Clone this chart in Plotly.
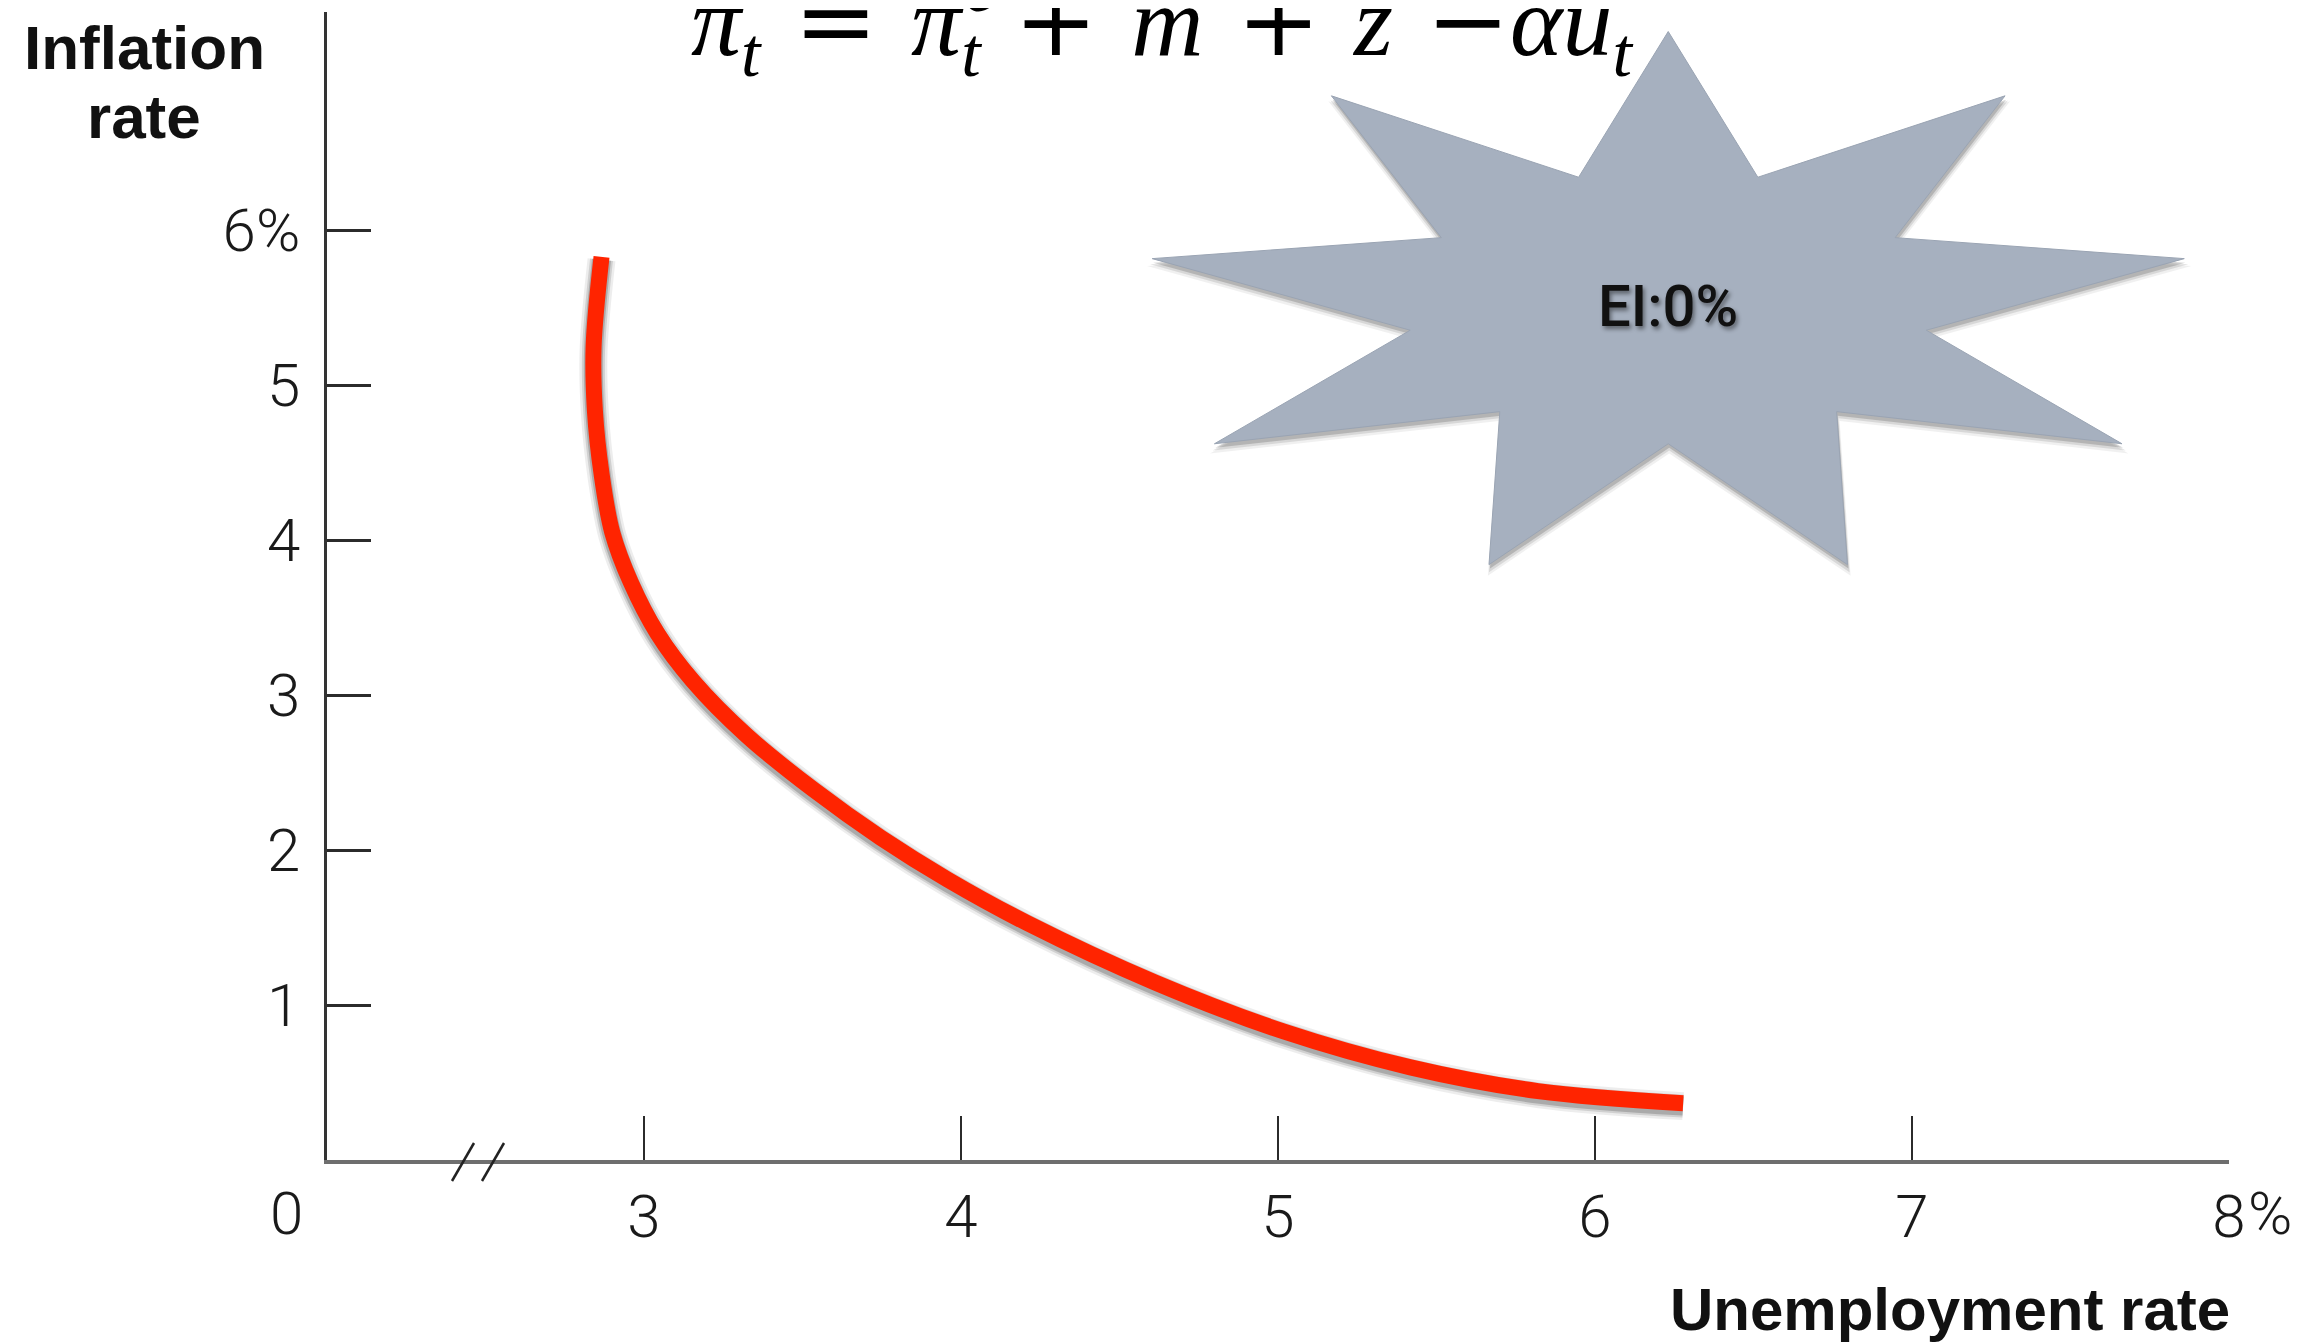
import numpy as np
import plotly.graph_objects as go

# ---------------- data ----------------
unemployment = [2.866, 2.841, 2.845, 2.866, 2.90, 2.958, 3.042, 3.155, 3.324, 3.535,
                3.747, 3.958, 4.211, 4.613, 5.016, 5.418, 5.82, 6.278]
inflation = [5.83, 5.25, 4.84, 4.43, 4.05, 3.73, 3.40, 3.09, 2.74, 2.39,
             2.08, 1.81, 1.527, 1.145, 0.831, 0.598, 0.445, 0.367]

x_tickvals = [3, 4, 5, 6, 7, 8]
x_ticktext = ["3", "4", "5", "6", "7", "8"]
y_tickvals = [1, 2, 3, 4, 5, 6]
y_ticktext = ["1", "2", "3", "4", "5", "6%"]

star_label = "EI:0%"
x_title = "Unemployment rate"
y_title_lines = ["Inflation", "rate"]

# ---------------- layout geometry (page pixels) ----------------
PAGE_W, PAGE_H = 2314, 1343
BODY = 8                                   # default body margin of the html page
W, H = PAGE_W - BODY, PAGE_H - BODY
L, R, T, B = 327, 2229, 12, 1160           # plot area in page pixels
X_RANGE = [2, 8]
Y_RANGE = [0, 7.41]
PXX = (X_RANGE[1] - X_RANGE[0]) / (R - L)   # data units per pixel
PXY = (Y_RANGE[1] - Y_RANGE[0]) / (B - T)


def px_to_paper_x(px):
    return (px - L) / (R - L)


def px_to_paper_y(py):
    return (B - py) / (B - T)


fig = go.Figure()

# ---------------- star decoration ----------------
STAR_CX, STAR_CY = 6.231, 5.51
STAR_RX, STAR_RY = 1.653, 1.774
STAR_INNER = 0.5
STAR_N = 9


def star(cx, cy, rx, ry, grow=1.0):
    xs, ys = [], []
    for k in range(2 * STAR_N + 1):
        ang = np.pi / 2 - k * np.pi / STAR_N
        r = 1.0 if k % 2 == 0 else STAR_INNER
        xs.append(cx + grow * r * rx * np.cos(ang))
        ys.append(cy + grow * r * ry * np.sin(ang))
    return xs, ys


for dy_px, grow, alpha in [(8, 1.012, 0.06), (6, 1.006, 0.10), (4, 1.0, 0.16)]:
    sx, sy = star(STAR_CX + 1 * PXX, STAR_CY - dy_px * PXY, STAR_RX, STAR_RY, grow)
    fig.add_trace(go.Scatter(x=sx, y=sy, mode="lines", fill="toself",
                             fillcolor=f"rgba(0,0,0,{alpha})",
                             line=dict(width=0, color="rgba(0,0,0,0)"),
                             hoverinfo="skip", showlegend=False))
sx, sy = star(STAR_CX, STAR_CY, STAR_RX, STAR_RY)
fig.add_trace(go.Scatter(x=sx, y=sy, mode="lines", fill="toself",
                         fillcolor="#A6B0BF", line=dict(width=1, color="#9aa4b3"),
                         hoverinfo="skip", showlegend=False))

# ---------------- curve (with soft shadow) ----------------
shadow_y = [v - 3 * PXY for v in inflation]
for wdt, alpha in [(28, 0.07), (23, 0.12), (19, 0.18)]:
    fig.add_trace(go.Scatter(x=unemployment, y=shadow_y, mode="lines",
                             line=dict(color=f"rgba(0,0,0,{alpha})", width=wdt,
                                       shape="spline", smoothing=1.0),
                             hoverinfo="skip", showlegend=False))
fig.add_trace(go.Scatter(x=unemployment, y=inflation, mode="lines",
                         line=dict(color="#FF2400", width=16, shape="spline", smoothing=1.0),
                         showlegend=False))

# ---------------- axes ----------------
tick_font = dict(family="Roboto, Liberation Sans, sans-serif", size=60, color="#1a1a1a", weight=300)
fig.update_xaxes(range=X_RANGE, showgrid=False, zeroline=False,
                 showline=True, linewidth=4, linecolor="#6e6e6e",
                 ticks="inside", ticklen=44, tickwidth=2, tickcolor="#2b2b2b",
                 tickvals=x_tickvals, ticktext=x_ticktext, tickfont=tick_font,
                 ticklabelstandoff=1)
fig.update_yaxes(range=Y_RANGE, showgrid=False, zeroline=False,
                 showline=True, linewidth=2.5, linecolor="#333333",
                 ticks="inside", ticklen=44, tickwidth=2.5, tickcolor="#2b2b2b",
                 tickvals=y_tickvals, ticktext=y_ticktext, tickfont=tick_font,
                 ticklabelstandoff=12)

# axis break marks "//"
BREAK_PX = [463, 493]
for cx in BREAK_PX:
    fig.add_shape(type="line", xref="paper", yref="paper",
                  x0=px_to_paper_x(cx - 11), y0=px_to_paper_y(B + 21),
                  x1=px_to_paper_x(cx + 11), y1=px_to_paper_y(B - 17),
                  line=dict(color="#222222", width=2.5))

# bars over m and z in the formula (cut by the top edge, as in the slide)
for x0, x1 in [(1162, 1196), (1360, 1394)]:
    fig.add_shape(type="line", xref="paper", yref="paper",
                  x0=px_to_paper_x(x0), y0=px_to_paper_y(3),
                  x1=px_to_paper_x(x1), y1=px_to_paper_y(3),
                  line=dict(color="#000000", width=5))

# ---------------- annotations ----------------
ann = []
ann.append(dict(text="0", xref="paper", yref="paper", x=px_to_paper_x(286), y=px_to_paper_y(1213),
                xanchor="center", yanchor="middle", showarrow=False, font=tick_font))
ann.append(dict(text="%", xref="paper", yref="paper", x=px_to_paper_x(2246), y=px_to_paper_y(1213),
                xanchor="left", yanchor="middle", showarrow=False, font=tick_font))
ytitle_font = dict(family="Liberation Sans, Arial, sans-serif", size=62, color="#111111", weight="bold")
xtitle_font = dict(family="Liberation Sans, Arial, sans-serif", size=60, color="#111111", weight="bold")
ann.append(dict(text=y_title_lines[0], xref="paper", yref="paper", x=px_to_paper_x(144),
                y=px_to_paper_y(48), xanchor="center", yanchor="middle", showarrow=False, font=ytitle_font))
ann.append(dict(text=y_title_lines[1], xref="paper", yref="paper", x=px_to_paper_x(144),
                y=px_to_paper_y(117), xanchor="center", yanchor="middle", showarrow=False, font=ytitle_font))
ann.append(dict(text=x_title, xref="paper", yref="paper", x=px_to_paper_x(2232),
                y=px_to_paper_y(1309), xanchor="right", yanchor="middle", showarrow=False, font=xtitle_font))
ann.append(dict(text=star_label, xref="x", yref="y", x=STAR_CX, y=STAR_CY,
                xanchor="center", yanchor="middle", showarrow=False,
                font=dict(family="Roboto, sans-serif", size=58, color="#111111",
                          weight=500, shadow="2px 3px 4px rgba(0,0,0,0.45)")))

# formula  π_t = π_t^e + m̄ + z̄ − α u_t
SP = "\u2004"


def op(s):
    return "<span style='font-family:DejaVu Serif'>" + s + "</span>"


formula = ("<i>π</i><sub><i>t</i></sub>" + SP + op("=") + SP +
           "<i>π</i><sub><i>t</i></sub>" + SP + op("+") + SP +
           "<i>m</i>" + SP + op("+") + SP + "<i>z</i>" + SP + op("−") +
           "<i>αu</i><sub><i>t</i></sub>")
math_font = dict(family="Liberation Serif, DejaVu Serif, serif", size=100, color="#000000")
ann.append(dict(text=formula, xref="paper", yref="paper", x=px_to_paper_x(1162),
                y=px_to_paper_y(27), xanchor="center", yanchor="middle", showarrow=False,
                font=math_font))
ann.append(dict(text="<i>e</i>", xref="paper", yref="paper", x=px_to_paper_x(980),
                y=px_to_paper_y(-12), xanchor="center", yanchor="middle", showarrow=False,
                font=dict(family="Liberation Serif, DejaVu Serif, serif", size=70, color="#000000")))

fig.update_layout(width=W, height=H, autosize=False,
                  margin=dict(l=L - BODY, r=PAGE_W - R, t=T - BODY, b=PAGE_H - B, pad=0),
                  plot_bgcolor="white", paper_bgcolor="white",
                  annotations=ann, showlegend=False)

fig.write_html("out.html")
